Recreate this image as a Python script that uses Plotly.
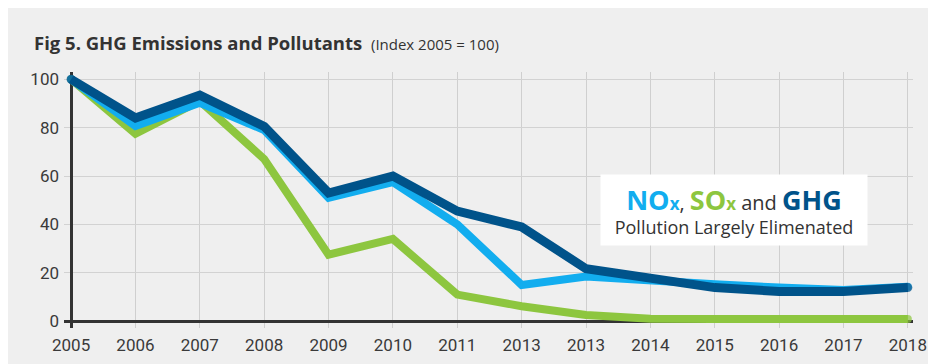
import plotly.graph_objects as go

years = ["2005", "2006", "2007", "2008", "2009", "2010", "2011", "2013", "2013",
         "2014", "2015", "2016", "2017", "2018"]
nox = [100, 80.7, 90.3, 79, 51, 57.5, 40, 15, 18.5, 16.5, 15.3, 13.9, 12.9, 14.2]
sox = [100, 77.5, 91, 67, 27.5, 34, 11, 6.2, 2.6, 1.0, 0.9, 0.9, 0.9, 0.9]
ghg = [100, 84, 93.4, 80.5, 53, 60, 45.5, 39, 21.7, 17.5, 13.9, 12.3, 12.3, 13.9]

C_NOX = "#12ADEF"
C_SOX = "#8DC63F"
C_GHG = "#00538A"
TXT = "#333333"
BG = "#EFEFEF"
TICK_FONT = "Roboto, Liberation Sans, sans-serif"

idx = list(range(len(years)))

fig = go.Figure()
for name, vals, col, w in [("SOx", sox, C_SOX, 8), ("NOx", nox, C_NOX, 8), ("GHG", ghg, C_GHG, 9)]:
    fig.add_trace(go.Scatter(
        x=idx, y=vals, name=name, mode="lines+markers",
        line=dict(color=col, width=w),
        marker=dict(color=col, size=[w] + [0] * (len(vals) - 2) + [w], line=dict(width=0)),
        hoverinfo="x+y+name",
    ))

fig.update_layout(
    width=936, height=364,
    paper_bgcolor=BG, plot_bgcolor=BG,
    margin=dict(l=56, r=31, t=64, b=44),
    showlegend=False,
    font=dict(family=TICK_FONT, color=TXT, size=17),
    title=dict(
        text="<b>Fig 5. GHG Emissions and Pollutants</b> <span style='font-size:15px;font-weight:normal'> (Index 2005 = 100)</span>",
        font=dict(family="Open Sans", size=18.5, color=TXT),
        x=26 / 936, xanchor="left", y=1 - 35.5 / 364, yanchor="middle",
    ),
    xaxis=dict(
        range=[-0.11, 13.08],
        tickmode="array", tickvals=idx, ticktext=years,
        showgrid=True, gridcolor="#CFCFCF", gridwidth=1,
        zeroline=True, zerolinecolor="#333333", zerolinewidth=3,
        showline=False, ticks="", ticklabelstandoff=5,
        tickfont=dict(family=TICK_FONT, size=17, color="#3A3A3A"),
    ),
    yaxis=dict(
        range=[-2.8, 103],
        tickmode="array", tickvals=[0, 20, 40, 60, 80, 100],
        showgrid=True, gridcolor="#D2D2D2", gridwidth=1,
        zeroline=True, zerolinecolor="#333333", zerolinewidth=3,
        showline=False, ticks="", ticklabelstandoff=4,
        tickfont=dict(family=TICK_FONT, size=17, color="#3A3A3A"),
    ),
)

line1 = ("<b><span style='color:%s;font-size:27px'>NO</span><span style='color:%s;font-size:17px'>x</span></b>"
         "<span style='font-size:20px'>, </span>"
         "<b><span style='color:%s;font-size:27px'>SO</span><span style='color:%s;font-size:17px'>x</span></b>"
         "<span style='font-size:20px'> and </span>"
         "<b><span style='color:%s;font-size:27px'>GHG</span></b>") % (C_NOX, C_NOX, C_SOX, C_SOX, C_GHG)
line2 = "Pollution Largely Elimenated"

fig.add_annotation(
    xref="paper", yref="paper", x=(726 - 56) / 849, y=(320 - 202) / 256,
    xanchor="center", yanchor="middle", showarrow=False,
    text=line1 + "<br>" + line2,
    font=dict(family="Open Sans", size=18, color=TXT),
    bgcolor="#FFFFFF", width=264, height=68, borderpad=1, align="center",
)

fig.write_html("out.html")
